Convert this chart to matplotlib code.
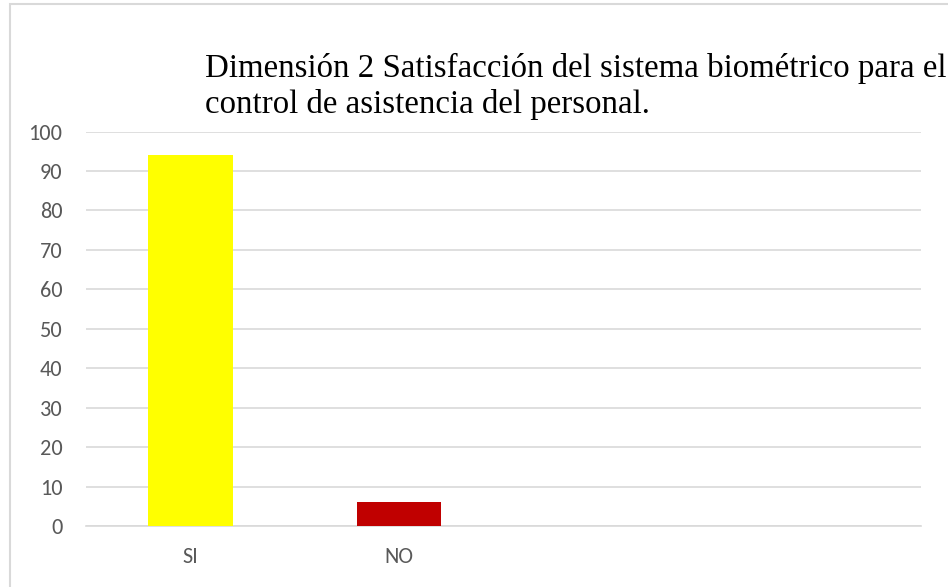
import matplotlib
matplotlib.use("Agg")
import matplotlib.pyplot as plt
from matplotlib.patches import Rectangle

categories = ["SI", "NO", "", ""]
values = [94, 6, 0, 0]
colors = ["#FFFF00", "#C00000", "#FFFFFF", "#FFFFFF"]
yticks = [0, 10, 20, 30, 40, 50, 60, 70, 80, 90, 100]
title = "Dimensión 2 Satisfacción del sistema biométrico para el\ncontrol de asistencia del personal."

W, H = 948, 587
fig = plt.figure(figsize=(W / 100, H / 100), dpi=100)
fig.patches.append(Rectangle((10 / W, -0.01), 1.0, 1.01 - 4 / H, transform=fig.transFigure,
                             fill=False, edgecolor="#D9D9D9", linewidth=1.5))

ax = fig.add_axes([86 / W, 1 - 526 / H, (921 - 86) / W, (526 - 131.5) / H])
x = list(range(len(categories)))
ax.bar(x[:2], values[:2], width=0.405, color=colors[:2], zorder=3)
ax.set_xlim(-0.5, len(categories) - 0.5)
ax.set_ylim(0, 100)
ax.set_yticks(yticks)
ax.set_xticks(x)
ax.set_xticklabels(categories)
ax.yaxis.grid(True, color="#D9D9D9", linewidth=1.2, zorder=0)
for s in ["top", "right", "left"]:
    ax.spines[s].set_visible(False)
ax.spines["bottom"].set_color("#D9D9D9")
ax.spines["bottom"].set_linewidth(1.2)
ax.tick_params(axis="both", length=0, colors="#595959", labelsize=16)
ax.tick_params(axis="y", pad=17)
ax.tick_params(axis="x", pad=15)
for lab in ax.get_xticklabels() + ax.get_yticklabels():
    lab.set_family(["Carlito", "Liberation Sans", "DejaVu Sans"])

lines = title.split("\n")
baselines = [77, 113]
for line, b in zip(lines, baselines):
    fig.text(205 / W, 1 - b / H, line, ha="left", va="baseline",
             fontfamily="Liberation Serif", fontsize=23.7, color="#000000")

fig.savefig("out.png", dpi=100)
